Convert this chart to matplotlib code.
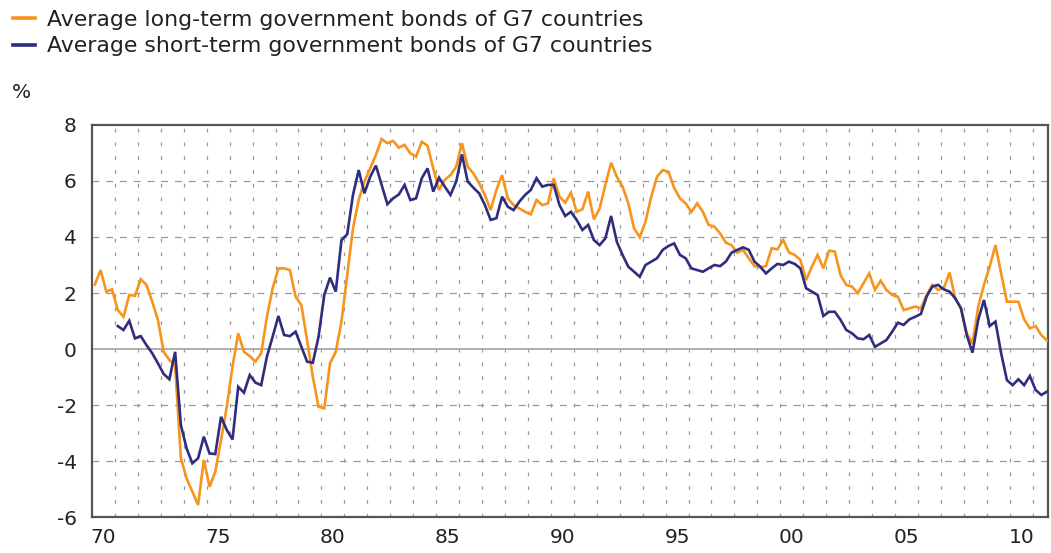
import numpy as np
import matplotlib
matplotlib.use("Agg")
import matplotlib.pyplot as plt
from matplotlib.lines import Line2D

plt.rcParams['font.family'] = ['DejaVu Sans']

# Quarterly real yields, %, long-term series from 1970 Q1
long_term_start = 1970
long_term = [
    2.30, 2.82, 2.05, 2.13,   # 1970
    1.39, 1.15, 1.93, 1.90,   # 1971
    2.49, 2.29, 1.69, 1.04,   # 1972
    -0.10, -0.39, -0.60, -3.90,  # 1973
    -4.62, -5.10, -5.57, -3.96,  # 1974
    -4.92, -4.38, -3.25, -2.06,  # 1975
    -0.63, 0.56, -0.10, -0.25,   # 1976
    -0.45, -0.15, 1.15, 2.17,    # 1977
    2.88, 2.88, 2.82, 1.87,      # 1978
    1.57, 0.32, -0.99, -2.06,    # 1979
    -2.12, -0.51, -0.10, 0.98,   # 1980
    2.64, 4.31, 5.32, 5.98,      # 1981
    6.45, 6.93, 7.50, 7.35,      # 1982
    7.43, 7.19, 7.29, 6.99,      # 1983
    6.87, 7.40, 7.26, 6.45,      # 1984
    5.68, 6.04, 6.21, 6.51,      # 1985
    7.35, 6.51, 6.27, 5.92,      # 1986
    5.50, 4.96, 5.68, 6.21,      # 1987
    5.38, 5.14, 5.02, 4.90,      # 1988
    4.81, 5.32, 5.14, 5.20,      # 1989
    6.10, 5.44, 5.23, 5.58,      # 1990
    4.90, 4.99, 5.62, 4.63,      # 1991
    5.02, 5.86, 6.65, 6.15,      # 1992
    5.80, 5.20, 4.31, 3.99,      # 1993
    4.55, 5.44, 6.15, 6.39,      # 1994
    6.33, 5.75, 5.38, 5.20,      # 1995
    4.90, 5.20, 4.90, 4.43,      # 1996
    4.37, 4.13, 3.80, 3.71,      # 1997
    3.44, 3.54, 3.24, 2.96,      # 1998
    2.92, 2.96, 3.60, 3.56,      # 1999
    3.90, 3.45, 3.36, 3.18,      # 2000
    2.46, 2.94, 3.36, 2.88,      # 2001
    3.51, 3.48, 2.64, 2.29,      # 2002
    2.23, 1.99, 2.35, 2.70,      # 2003
    2.11, 2.44, 2.11, 1.93,      # 2004
    1.87, 1.39, 1.45, 1.52,      # 2005
    1.45, 1.93, 2.29, 2.11,      # 2006
    2.17, 2.73, 1.81, 1.45,      # 2007
    0.56, 0.20, 1.51, 2.29,      # 2008
    2.94, 3.71, 2.70, 1.69,      # 2009
    1.69, 1.69, 1.06, 0.74,      # 2010
    0.82, 0.50, 0.30,            # 2011
]

# Short-term series from 1971 Q1
short_term_start = 1971
short_term = [
    0.82, 0.68, 1.01, 0.38,      # 1971
    0.46, 0.14, -0.15, -0.51,    # 1972
    -0.89, -1.08, -0.10, -2.71,  # 1973
    -3.55, -4.08, -3.90, -3.13,  # 1974
    -3.73, -3.75, -2.42, -2.89,  # 1975
    -3.23, -1.35, -1.56, -0.93,  # 1976
    -1.20, -1.29, -0.27, 0.44,   # 1977
    1.18, 0.50, 0.46, 0.62,      # 1978
    0.08, -0.45, -0.49, 0.44,    # 1979
    1.93, 2.55, 2.05, 3.89,      # 1980
    4.10, 5.50, 6.39, 5.56,      # 1981
    6.15, 6.55, 5.86, 5.17,      # 1982
    5.38, 5.52, 5.86, 5.32,      # 1983
    5.38, 6.10, 6.45, 5.62,      # 1984
    6.12, 5.80, 5.50, 5.98,      # 1985
    6.95, 5.98, 5.76, 5.56,      # 1986
    5.14, 4.61, 4.67, 5.44,      # 1987
    5.08, 4.96, 5.26, 5.50,      # 1988
    5.68, 6.10, 5.80, 5.86,      # 1989
    5.86, 5.14, 4.75, 4.90,      # 1990
    4.61, 4.25, 4.43, 3.89,      # 1991
    3.71, 3.95, 4.75, 3.83,      # 1992
    3.36, 2.94, 2.76, 2.58,      # 1993
    3.00, 3.12, 3.24, 3.54,      # 1994
    3.68, 3.77, 3.36, 3.24,      # 1995
    2.88, 2.82, 2.76, 2.88,      # 1996
    3.00, 2.96, 3.12, 3.44,      # 1997
    3.54, 3.63, 3.54, 3.12,      # 1998
    2.94, 2.70, 2.88, 3.04,      # 1999
    3.00, 3.12, 3.04, 2.88,      # 2000
    2.17, 2.05, 1.93, 1.18,      # 2001
    1.33, 1.33, 1.04, 0.68,      # 2002
    0.56, 0.38, 0.35, 0.50,      # 2003
    0.08, 0.20, 0.32, 0.62,      # 2004
    0.94, 0.86, 1.06, 1.15,      # 2005
    1.25, 1.87, 2.23, 2.29,      # 2006
    2.13, 2.05, 1.81, 1.45,      # 2007
    0.50, -0.13, 1.04, 1.75,     # 2008
    0.82, 0.98, -0.15, -1.11,    # 2009
    -1.29, -1.08, -1.29, -0.96,  # 2010
    -1.46, -1.64, -1.52,         # 2011
]

series_labels = [
    "Average long-term government bonds of G7 countries",
    "Average short-term government bonds of G7 countries",
]
year_tick_labels = ["70", "75", "80", "85", "90", "95", "00", "05", "10"]
year_tick_years = [1970, 1975, 1980, 1985, 1990, 1995, 2000, 2005, 2010]
y_ticks = [-6, -4, -2, 0, 2, 4, 6, 8]

ORANGE = "#F7941D"
NAVY = "#2E2D7E"
GRID = "#9a9a9a"


def quarter_dates(start_year, n):
    # mid-quarter positions in decimal years
    return start_year + (np.arange(n) + 0.5) / 4.0


x_long = quarter_dates(long_term_start, len(long_term))
x_short = quarter_dates(short_term_start, len(short_term))

fig = plt.figure(figsize=(10.51, 5.53), dpi=100)
ax = fig.add_axes([0.0875, 0.065, 0.9095, 0.709])

ax.set_xlim(1970, 2011.66)
ax.set_ylim(-6, 8)

# vertical year grid
for yr in range(1971, 2012):
    ax.axvline(yr, color=GRID, lw=0.9, ls=(0, (3.0, 8.0)), zorder=1)
# horizontal grid
for yv in [-4, -2, 2, 4, 6]:
    ax.axhline(yv, color=GRID, lw=0.9, ls=(0, (5.5, 5.5)), zorder=1)
ax.axhline(0, color="#a8a8a8", lw=1.3, zorder=1)

ax.plot(x_long, long_term, color=ORANGE, lw=1.9, zorder=3,
        solid_joinstyle="miter")
ax.plot(x_short, short_term, color=NAVY, lw=1.9, zorder=4,
        solid_joinstyle="miter")

ax.set_xticks([y + 0.5 for y in year_tick_years])
ax.set_xticklabels(year_tick_labels)
ax.set_yticks(y_ticks)
ax.set_yticklabels([str(v) for v in y_ticks])
ax.tick_params(axis="both", length=0, labelsize=14.5, colors="#222222")
ax.tick_params(axis="x", pad=8)
ax.tick_params(axis="y", pad=11)

for sp in ax.spines.values():
    sp.set_color("#555555")
    sp.set_linewidth(1.6)

fig.text(0.011, 0.815, "%", fontsize=14.5, color="#222222", ha="left", va="bottom")

handles = [Line2D([], [], color=ORANGE, lw=2.6),
           Line2D([], [], color=NAVY, lw=2.6)]
fig.legend(handles, series_labels, loc="upper left",
           bbox_to_anchor=(-0.002, 1.01), frameon=False, fontsize=15.8,
           handlelength=1.0, handletextpad=0.55, labelspacing=0.3,
           borderaxespad=0.3, labelcolor="#222222")

fig.savefig("out.png", dpi=100, facecolor="white")
